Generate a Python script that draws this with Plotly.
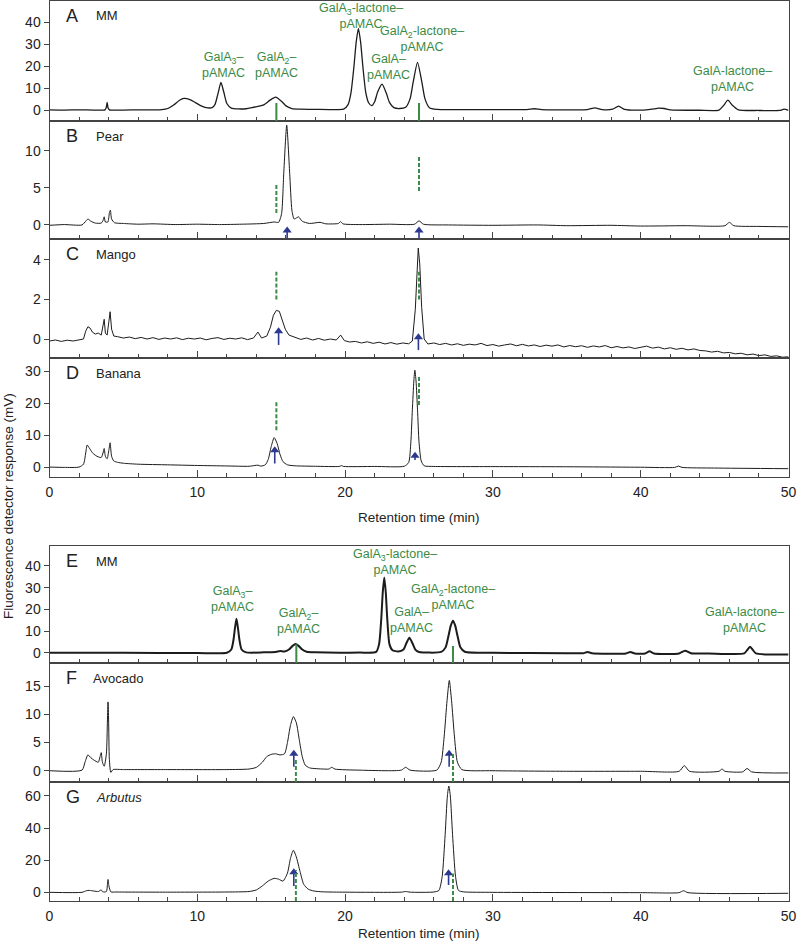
import plotly.graph_objects as go

# ---------------- data (retention time [min], response [mV]) ----------------
trace_A = [(0,0.1),(1,0),(2,0.1),(3,0.0),(3.75,0.1),(3.84,1.2),(3.9,3.5),(3.96,1.0),(4.05,0.1),(5,0.0),(6,0.1),(7,0.1),
           (7.6,0.2),(8.0,0.7),(8.4,2.3),(8.8,4.5),(9.1,5.3),(9.5,4.8),(9.9,3.3),(10.3,1.8),(10.7,1.0),(11.0,1.1),
           (11.2,2.6),(11.4,7.5),(11.6,12.6),(11.8,8.0),(12.0,3.0),(12.3,0.9),(12.8,0.5),(13.3,0.6),(13.7,1.1),(14.1,1.7),
           (14.5,2.4),(14.9,4.4),(15.3,5.9),(15.7,4.0),(16.0,1.9),(16.4,0.7),(17.0,0.4),(18.0,0.3),(19.5,0.2),(19.9,0.4),
           (20.2,2.5),(20.4,8),(20.6,20),(20.75,31),(20.9,37.3),(21.05,31),(21.2,20),(21.4,8),(21.6,3.2),(21.8,2.0),
           (22.0,3.8),(22.2,8.2),(22.5,11.8),(22.8,7.5),(23.0,3.5),(23.3,1.1),(23.7,0.7),(24.1,1.3),(24.4,5.2),(24.6,12.5),
           (24.9,21.8),(25.2,12.5),(25.4,5.2),(25.7,1.1),(26.2,0.3),(28,0.2),(30,0.2),(32.3,0.2),(32.8,0.6),(33.3,0.2),
           (35,0.1),(36.4,0.2),(36.9,1.0),(37.4,0.2),(38.1,0.4),(38.5,1.8),(38.9,0.3),(40.2,0.0),(40.9,0.5),(41.2,0.9),
           (41.6,0.7),(42.0,0.1),(44,-0.1),(45.3,0.0),(45.6,2.0),(45.9,4.5),(46.2,2.2),(46.6,0.1),(48,-0.2),(49.4,-0.2),
           (49.7,0.4),(50,-0.1)]

trace_B = [(0,-0.05),(1,0.05),(2.2,0.0),(2.45,0.5),(2.6,0.8),(2.8,0.5),(3.1,0.25),(3.5,0.25),(3.62,0.6),(3.7,1.1),
           (3.78,0.4),(3.95,0.4),(4.05,1.6),(4.12,2.0),(4.2,0.8),(4.4,0.3),(5,0.2),(6,0.1),(7,0.15),(8.5,0.05),(10,0.1),
           (11.5,0.05),(13,0.1),(14.5,0.2),(15.2,0.4),(15.5,0.35),(15.7,1.5),(15.85,7),(16.05,13.5),(16.25,7),(16.4,2.0),
           (16.55,0.8),(16.75,1.0),(16.85,1.1),(17.1,0.5),(17.6,0.2),(18.3,0.35),(18.7,0.15),(19.55,0.2),(19.7,0.45),
           (19.85,0.15),(21,0.05),(23,0.1),(24.7,0.1),(25.0,0.55),(25.3,0.1),(27,0.0),(30,-0.05),(33,0.0),(35,-0.1),
           (38,-0.05),(40,-0.15),(43,-0.1),(45.7,-0.1),(46.0,0.35),(46.3,-0.1),(48,-0.2),(50,-0.25)]

trace_C = [(0,-0.1),(0.4,-0.05),(0.8,-0.12),(1.2,-0.06),(1.6,-0.1),(2.0,-0.03),(2.3,0.0),(2.45,0.4),(2.6,0.62),(2.75,0.55),
           (2.9,0.35),(3.1,0.25),(3.3,0.3),(3.5,0.2),(3.62,0.6),(3.7,1.0),(3.78,0.3),(3.9,0.2),(4.02,0.9),(4.1,1.38),
           (4.2,0.5),(4.35,0.15),(4.6,0.12),(5.0,0.05),(5.4,0.1),(5.8,0.02),(6.2,0.08),(6.6,0.0),(7.0,0.07),(7.4,-0.02),
           (7.8,0.05),(8.2,0.0),(8.6,0.06),(9.0,-0.03),(9.4,0.04),(9.8,0.0),(10.2,0.05),(10.6,-0.04),(11.0,0.03),(11.4,0.07),
           (11.8,-0.02),(12.2,0.04),(12.6,0.0),(13.0,0.06),(13.4,-0.03),(13.8,0.05),(14.1,0.35),(14.35,0.05),(14.7,0.15),
           (14.95,0.6),(15.15,1.2),(15.35,1.45),(15.55,1.4),(15.75,1.0),(15.95,0.5),(16.2,0.2),(16.6,0.1),(17.0,-0.02),
           (17.4,0.05),(17.8,-0.05),(18.2,0.03),(18.6,-0.06),(19.0,0.0),(19.4,-0.05),(19.7,0.2),(19.95,-0.08),(20.3,-0.15),
           (20.7,-0.12),(21.1,-0.2),(21.5,-0.14),(21.9,-0.22),(22.3,-0.16),(22.7,-0.25),(23.1,-0.18),(23.5,-0.26),
           (23.9,-0.2),(24.3,-0.24),(24.55,-0.1),(24.75,1.5),(24.87,3.6),(24.95,4.6),(25.05,3.8),(25.18,1.6),(25.35,0.0),
           (25.6,-0.25),(26.0,-0.2),(26.4,-0.28),(26.8,-0.22),(27.2,-0.3),(27.6,-0.24),(28.0,-0.32),(28.4,-0.26),
           (28.8,-0.3),(29.2,-0.22),(29.6,-0.33),(30.0,-0.28),(30.4,-0.36),(30.8,-0.3),(31.2,-0.25),(31.6,-0.34),
           (32.0,-0.27),(32.4,-0.35),(32.8,-0.3),(33.2,-0.38),(33.6,-0.31),(34.0,-0.36),(34.4,-0.3),(34.8,-0.4),
           (35.2,-0.33),(35.6,-0.39),(36.0,-0.34),(36.4,-0.42),(36.8,-0.35),(37.2,-0.4),(37.6,-0.33),(38.0,-0.44),
           (38.4,-0.38),(38.8,-0.45),(39.2,-0.4),(39.6,-0.48),(40.0,-0.42),(40.4,-0.36),(40.8,-0.46),(41.2,-0.41),
           (41.6,-0.5),(42.0,-0.44),(42.4,-0.52),(42.8,-0.47),(43.2,-0.55),(43.6,-0.5),(44.0,-0.58),(44.4,-0.6),
           (44.8,-0.66),(45.2,-0.62),(45.6,-0.7),(46.0,-0.68),(46.4,-0.75),(46.8,-0.72),(47.2,-0.8),(47.6,-0.76),
           (48.0,-0.84),(48.4,-0.8),(48.8,-0.88),(49.2,-0.85),(49.6,-0.92),(50,-0.9)]

trace_D = [(0,0.1),(1,0.0),(2.0,0.1),(2.3,1.0),(2.45,4.5),(2.55,7.0),(2.7,6.0),(2.9,4.6),(3.1,3.8),(3.3,3.3),(3.5,3.1),
           (3.62,4.5),(3.7,5.9),(3.78,3.5),(3.9,2.7),(4.02,5.5),(4.1,7.7),(4.2,3.5),(4.35,2.0),(4.6,1.6),(5.0,1.3),(6,1.0),
           (8,0.8),(10,0.6),(12,0.45),(13.5,0.35),(13.9,0.6),(14.1,0.7),(14.3,0.4),(14.6,0.8),(14.8,2.5),(15.0,6.5),
           (15.2,9.3),(15.4,7.5),(15.6,4.0),(15.8,1.8),(16.1,0.8),(16.6,0.5),(18,0.35),(19.6,0.3),(19.75,0.55),(19.9,0.3),
           (22,0.3),(24.0,0.35),(24.3,1.5),(24.45,8),(24.55,18),(24.65,27),(24.72,30.4),(24.8,27),(24.9,18),(25.0,8),
           (25.15,2.0),(25.35,0.5),(26,0.3),(30,0.25),(35,0.2),(40,0.05),(42.3,0.0),(42.55,0.4),(42.8,0.0),(45,-0.2),
           (50,-0.4)]

trace_E = [(0,0),(5,0),(10,-0.1),(12.0,0.0),(12.3,1.5),(12.45,6),(12.55,11.5),(12.65,15.7),(12.75,11.5),(12.85,6),
           (13.0,1.5),(13.3,0.2),(14.5,0.2),(15.3,0.4),(15.6,0.8),(15.9,0.6),(16.2,1.5),(16.45,3.2),(16.65,4.0),
           (16.85,3.2),(17.1,1.5),(17.4,0.5),(18,0.2),(21,0.1),(22.1,0.4),(22.3,4),(22.45,16),(22.55,28),(22.65,34.7),
           (22.75,28),(22.85,16),(23.0,4),(23.2,1.2),(23.6,0.6),(23.95,1.5),(24.15,4.5),(24.35,6.9),(24.55,4.5),
           (24.75,1.5),(25,0.4),(26.5,0.4),(26.8,2.5),(27.0,8),(27.15,12.5),(27.3,14.8),(27.45,12.5),(27.6,8),(27.8,2.5),
           (28.1,0.5),(30,0),(35,-0.2),(36.1,-0.2),(36.4,0.4),(36.7,-0.2),(39,-0.3),(39.3,0.4),(39.6,-0.3),(40.3,-0.3),
           (40.6,0.7),(40.9,-0.3),(42.6,-0.3),(43.0,1.0),(43.4,-0.2),(44.6,-0.3),(47.0,-0.3),(47.2,1.2),(47.4,2.8),
           (47.6,1.2),(47.8,-0.3),(50,-0.8)]

trace_F = [(0,0),(2.2,0.1),(2.4,1.5),(2.6,2.8),(2.8,2.3),(3.0,1.9),(3.3,1.5),(3.42,2.5),(3.5,3.2),(3.58,1.5),(3.7,0.8),
           (3.85,3),(3.92,9),(3.96,12.2),(4.0,9),(4.05,2),(4.15,-0.3),(4.3,0.2),(5,0.2),(8,0.2),(12,0.2),(13.5,0.3),
           (14.0,0.6),(14.4,1.5),(14.7,2.5),(15.0,2.9),(15.3,3.0),(15.6,2.8),(15.9,3.0),(16.1,5),(16.3,8),(16.5,9.6),
           (16.7,8.5),(16.9,5.5),(17.1,2.5),(17.3,1.0),(17.6,0.5),(18.5,0.3),(18.9,0.3),(19.1,0.6),(19.3,0.3),(21,0.1),
           (23.8,0.1),(24.1,0.6),(24.4,0.1),(26.2,0.1),(26.5,1.5),(26.7,6),(26.9,12.5),(27.05,16.0),(27.2,12.5),(27.4,6),
           (27.6,1.5),(27.9,0.2),(30,0.0),(35,-0.1),(40,-0.1),(42.6,-0.1),(42.95,0.9),(43.3,-0.1),(45.3,-0.1),(45.5,0.3),
           (45.7,-0.1),(46.9,-0.2),(47.2,0.4),(47.5,-0.2),(50,-0.4)]

trace_G = [(0,0),(2.2,0),(2.5,1.0),(2.7,1.2),(3.0,0.8),(3.3,0.5),(3.5,1.5),(3.6,0.3),(3.85,0.5),(3.92,5),(3.96,8.0),
           (4.02,4),(4.15,0.3),(4.5,0.2),(8,0.1),(12,0.2),(13.5,0.5),(14.0,1.5),(14.4,4.0),(14.8,7.0),(15.2,8.7),
           (15.5,8.2),(15.8,7.0),(16.1,12),(16.3,21),(16.5,26.2),(16.7,22),(16.95,13),(17.2,5),(17.5,2),(17.9,0.8),
           (18.5,0.3),(20,0.1),(23.8,0.1),(24.1,0.5),(24.4,0.1),(26.0,0.2),(26.35,1.2),(26.57,10),(26.77,36),(26.92,60),
           (27.02,66.2),(27.12,60),(27.27,36),(27.47,10),(27.67,1.2),(28,0.3),(30,0),(40,-0.2),(42.6,-0.2),(42.9,1.0),
           (43.2,-0.2),(50,-0.6)]

panel_letters = ["A", "B", "C", "D", "E", "F", "G"]
panel_names = ["MM", "Pear", "Mango", "Banana", "MM", "Avocado", "<i>Arbutus</i>"]
panel_traces = [trace_A, trace_B, trace_C, trace_D, trace_E, trace_F, trace_G]
y_ticks = [[0, 10, 20, 30, 40], [0, 5, 10], [0, 2, 4], [0, 10, 20, 30],
           [0, 10, 20, 30, 40], [0, 5, 10, 15], [0, 20, 40, 60]]
x_ticks = [0, 10, 20, 30, 40, 50]

# standard labels (panel index, time, text)
std_labels = [
    (0, 11.76, "GalA<sub>3</sub>–<br>pAMAC"),
    (0, 15.36, "GalA<sub>2</sub>–<br>pAMAC"),
    (0, 21.05, "GalA<sub>3</sub>-lactone–<br>pAMAC"),
    (0, 22.95, "GalA–<br>pAMAC"),
    (0, 25.2, "GalA<sub>2</sub>-lactone–<br>pAMAC"),
    (0, 46.2, "GalA-lactone–<br>pAMAC"),
    (4, 12.35, "GalA<sub>3</sub>–<br>pAMAC"),
    (4, 16.85, "GalA<sub>2</sub>–<br>pAMAC"),
    (4, 23.4, "GalA<sub>3</sub>-lactone–<br>pAMAC"),
    (4, 24.5, "GalA–<br>pAMAC"),
    (4, 27.3, "GalA<sub>2</sub>-lactone–<br>pAMAC"),
    (4, 47.0, "GalA-lactone–<br>pAMAC"),
]
# standard position markers (panel, time, y0, y1, dashed)
std_marks = [
    (0, 15.35, -5, 3.2, False), (0, 25.0, -5, 3.2, False),
    (1, 15.35, 1.6, 5.5, True), (1, 25.0, 4.6, 9.2, True),
    (2, 15.35, 2.0, 3.4, True), (2, 25.0, 2.0, 3.4, True),
    (3, 15.35, 11.6, 20.7, True), (3, 25.0, 19.5, 28.3, True),
    (4, 16.7, -4.7, 3.9, False), (4, 27.3, -4.7, 3.1, False),
    (5, 16.67, -2.0, 2.2, True), (5, 27.3, -2.0, 3.1, True),
    (6, 16.67, -5.4, 13.9, True), (6, 27.3, -5.4, 11.8, True),
]
# sample peak arrows (panel, time, tail, head)
arrows = [
    (1, 16.08, -1.9, -0.2), (1, 25.0, -1.9, -0.2),
    (2, 15.5, -0.3, 0.6), (2, 24.96, -0.56, 0.29),
    (3, 15.24, 1.25, 6.65), (3, 24.73, 2.3, 4.9),
    (5, 16.53, 0.7, 3.7), (5, 27.04, 0.7, 3.7),
    (6, 16.53, 3.9, 15.0), (6, 27.0, 4.5, 14.3),
]

# ---------------- layout geometry ----------------
W, H = 798, 942
PX0, PX1 = 49.5, 788.5
panel_px = [(0.5, 121), (121, 239), (239, 358), (358, 477), (546, 663), (663, 782), (782, 901)]
y_ranges = [[-5, 50], [-1.9, 14.05], [-0.96, 5.06], [-3.0, 34.2], [-4.7, 49.2], [-2.0, 19.1], [-5.4, 68.7]]
label_y_px = [[64.5, 64.5, 15.5, 67, 38.5, 78.5], [598.5, 621, 562, 619.5, 597, 620]]
line_widths = [1.3, 1.0, 1.0, 1.0, 2.0, 1.0, 1.0]
line_shapes = ["spline", "spline", "linear", "spline", "spline", "spline", "spline"]

FONT = "Liberation Sans, Arial, sans-serif"
GREEN = "#3b8a45"
BLUE = "#2b3990"
AX = "#444444"
INK = "#1c1c1c"
HEAD = 8  # arrow head marker size (px)


def py(px):
    return 1 - px / H


def ax_names(i):
    s = "" if i == 0 else str(i + 1)
    return "x" + s, "y" + s, "xaxis" + s, "yaxis" + s


fig = go.Figure()
layout = dict(width=W, height=H, margin=dict(l=0, r=0, t=0, b=0, autoexpand=False), paper_bgcolor="white",
              plot_bgcolor="white", showlegend=False, font=dict(family=FONT, color="#222", size=13))
annotations = []
shapes = []

for i in range(7):
    xr, yr, xk, yk = ax_names(i)
    pts = panel_traces[i]
    fig.add_trace(go.Scatter(x=[p[0] for p in pts], y=[p[1] for p in pts], mode="lines",
                             line=dict(color=INK, width=line_widths[i], shape=line_shapes[i], smoothing=0.6),
                             xaxis=xr, yaxis=yr, hoverinfo="skip"))
    top, bot = panel_px[i]
    show_x = i in (3, 6)
    layout[xk] = dict(domain=[PX0 / W, PX1 / W], range=[0, 50], anchor=yr, showline=True, mirror=True,
                      linecolor=AX, linewidth=1, ticks="inside", tickvals=x_ticks, ticklen=7, tickcolor=AX,
                      showticklabels=show_x, showgrid=False, zeroline=False, automargin=False,
                      tickfont=dict(size=14, color="#222"), ticklabelstandoff=2,
                      minor=dict(dtick=2, tick0=0, ticks="inside", ticklen=4, tickcolor=AX, showgrid=False))
    layout[yk] = dict(domain=[py(bot), py(top)], range=y_ranges[i], anchor=xr, showline=True, mirror=True,
                      linecolor=AX, linewidth=1, ticks="outside", tickvals=y_ticks[i], ticklen=5, tickcolor=AX,
                      showgrid=False, zeroline=False, automargin=False, tickfont=dict(size=14, color="#222"))
    annotations.append(dict(text=panel_letters[i], x=64 / W, y=py(top + 15), xref="paper", yref="paper",
                            xanchor="left", yanchor="middle", showarrow=False,
                            font=dict(size=18, color="#222")))
    annotations.append(dict(text=panel_names[i], x=(91 if i == 5 else 94) / W, y=py(top + 15.5),
                            xref="paper", yref="paper", xanchor="left", yanchor="middle", showarrow=False,
                            font=dict(size=13, color="#222")))

# standard labels
cnt = {0: 0, 4: 0}
for (p, t, txt) in std_labels:
    xr, yr, _, _ = ax_names(p)
    k = cnt[p]
    cnt[p] += 1
    ypx = label_y_px[0 if p == 0 else 1][k]
    annotations.append(dict(text=txt, x=t, y=py(ypx), xref=xr, yref="paper", xanchor="center",
                            yanchor="middle", showarrow=False, align="center",
                            font=dict(size=12.5, color=GREEN)))

for (p, t, y0, y1, dashed) in std_marks:
    xr, yr, _, _ = ax_names(p)
    shapes.append(dict(type="line", xref=xr, yref=yr, x0=t, x1=t, y0=y0, y1=y1,
                       line=dict(color=GREEN, width=2, dash="4px,2px" if dashed else "solid")))

# blue arrows: shaft + triangular head (tip of triangle sits HEAD/2 px above marker centre)
for (p, t, tail, head) in arrows:
    xr, yr, _, _ = ax_names(p)
    top, bot = panel_px[p]
    units_per_px = (y_ranges[p][1] - y_ranges[p][0]) / (bot - top)
    centre = head - (HEAD / 2) * units_per_px
    fig.add_trace(go.Scatter(x=[t, t], y=[tail, centre], mode="lines", line=dict(color=BLUE, width=1.6),
                             xaxis=xr, yaxis=yr, hoverinfo="skip"))
    fig.add_trace(go.Scatter(x=[t], y=[centre], mode="markers",
                             marker=dict(symbol="triangle-up", size=HEAD, color=BLUE, line=dict(width=0)),
                             xaxis=xr, yaxis=yr, hoverinfo="skip"))

# axis titles
for ypx in (517, 933):
    annotations.append(dict(text="Retention time (min)", x=(PX0 + PX1) / 2 / W, y=py(ypx), xref="paper",
                            yref="paper", xanchor="center", yanchor="middle", showarrow=False,
                            font=dict(size=13.5, color="#222")))
annotations.append(dict(text="Fluorescence detector response (mV)", x=8 / W, y=py(506), xref="paper",
                        yref="paper", xanchor="center", yanchor="middle", textangle=-90, showarrow=False,
                        font=dict(size=13.5, color="#222")))

layout["annotations"] = annotations
layout["shapes"] = shapes
fig.update_layout(**layout)
fig.write_html("out.html", config={"displayModeBar": False},
               post_script="document.body.style.margin='0';document.body.style.padding='0';")
